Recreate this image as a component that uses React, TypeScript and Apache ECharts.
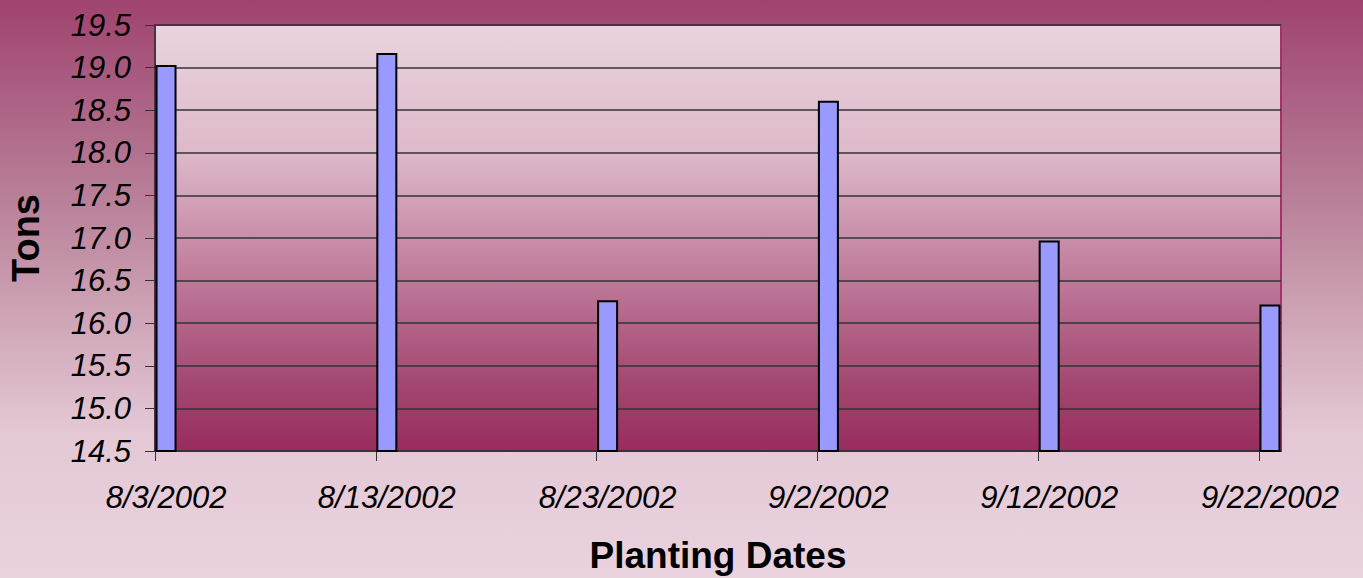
import React, { useEffect, useRef } from "react";
import * as echarts from "echarts";

const plantingDates = ["8/3/2002", "8/13/2002", "8/23/2002", "9/2/2002", "9/12/2002", "9/22/2002"];
const tons = [19.03, 19.17, 16.27, 18.61, 16.97, 16.22];
const yTicks = [14.5, 15.0, 15.5, 16.0, 16.5, 17.0, 17.5, 18.0, 18.5, 19.0, 19.5];

const DAY = 86400000;
const toUTC = (s: string) => {
  const [m, d, y] = s.split("/").map(Number);
  return Date.UTC(y, m - 1, d);
};
const base = toUTC(plantingDates[0]);
const offsets = plantingDates.map((s) => Math.round((toUTC(s) - base) / DAY));
const fmtDate = (v: number) => {
  const dt = new Date(base + Math.floor(v) * DAY);
  return `${dt.getUTCMonth() + 1}/${dt.getUTCDate()}/${dt.getUTCFullYear()}`;
};

export default function App() {
  const ref = useRef<HTMLDivElement>(null);
  useEffect(() => {
    if (!ref.current) return;
    const chart = echarts.init(ref.current, null, { renderer: "svg" });
    const font = '"Liberation Sans", Arial, sans-serif';
    chart.setOption({
      animation: false,
      backgroundColor: {
        type: "linear", x: 0, y: 0, x2: 0, y2: 1,
        colorStops: [
          { offset: 0, color: "#9f436f" },
          { offset: 0.35, color: "#b98199" },
          { offset: 0.75, color: "#e4c8d5" },
          { offset: 1, color: "#e9d3de" },
        ],
      },
      grid: {
        left: 155, top: 25, right: 82, bottom: 127,
        containLabel: false,
        outerBoundsMode: "none",
        show: true,
        borderColor: "#a3326c",
        borderWidth: 2,
        backgroundColor: {
          type: "linear", x: 0, y: 0, x2: 0, y2: 1,
          colorStops: [
            { offset: 0, color: "#e9d3df" },
            { offset: 0.3, color: "#ddb9ca" },
            { offset: 0.6, color: "#be7999" },
            { offset: 0.85, color: "#a2466f" },
            { offset: 1, color: "#982c5e" },
          ],
        },
      },
      xAxis: {
        type: "value",
        min: 0,
        max: offsets[offsets.length - 1] + 1,
        name: "Planting Dates",
        nameLocation: "middle",
        nameGap: 86,
        nameTextStyle: { fontFamily: font, fontWeight: "bold", fontSize: 37, color: "#000" },
        splitLine: { show: false },
        axisLine: { show: true, lineStyle: { color: "#333", width: 1.5 } },
        axisTick: { show: true, length: 10, customValues: offsets, lineStyle: { color: "#333" } },
        axisLabel: {
          customValues: offsets.map((o) => o + 0.5),
          formatter: (v: number) => fmtDate(v),
          fontFamily: font, fontStyle: "italic", fontSize: 31, color: "#000", margin: 31,
        },
      },
      yAxis: {
        type: "value",
        min: yTicks[0],
        max: yTicks[yTicks.length - 1],
        interval: 0.5,
        name: "Tons",
        nameLocation: "middle",
        nameGap: 110,
        nameTextStyle: { fontFamily: font, fontWeight: "bold", fontSize: 38, color: "#000" },
        axisLine: { show: true, lineStyle: { color: "#333", width: 1.5 } },
        axisTick: { show: true, length: 10, lineStyle: { color: "#333" } },
        splitLine: { show: true, lineStyle: { color: "#333", width: 1.5 } },
        axisLabel: {
          formatter: (v: number) => v.toFixed(1),
          fontFamily: font, fontStyle: "italic", fontSize: 31, color: "#000", margin: 24,
        },
      },
      series: [
        {
          type: "bar",
          data: offsets.map((o, i) => [o + 0.5, tons[i]]),
          barWidth: 21,
          itemStyle: { color: "#9999ff", borderColor: "#000", borderWidth: 2 },
        },
      ],
    });
    return () => chart.dispose();
  }, []);
  return <div ref={ref} style={{ position: "absolute", left: 0, top: 0, width: 1363, height: 578 }} />;
}
